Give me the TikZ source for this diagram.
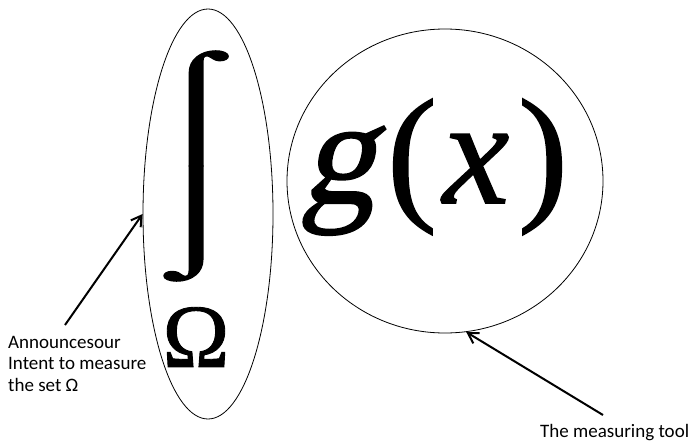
\documentclass[tikz,border=0pt]{standalone}
\usepackage{fontspec}
\usepackage{graphicx}
\setmainfont{Liberation Serif}
\newfontfamily\formulafont{Liberation Serif}[FakeBold=1]
\newfontfamily\slantfont{Liberation Serif}[FakeSlant=0.22,FakeBold=1]
\newfontfamily\notefont{Carlito}
\usetikzlibrary{arrows.meta,shapes.geometric,positioning}

\tikzset{
  ring/.style={draw, ellipse, line width=0.8pt, inner sep=0pt},
  pointer/.style={-{Straight Barb[length=10pt,width=12pt]}, line width=2pt},
  note/.style={font=\notefont\fontsize{19}{21.5}\selectfont, align=left, inner sep=0pt},
  glyph/.style={inner sep=0pt, font=\formulafont\fontsize{#1}{#1}\selectfont},
}
\newcommand{\tallint}{\vbox{\offinterlineskip\hbox{⌠}\hbox{⌡}}}

\begin{document}
\begin{tikzpicture}[x=1pt, y=-1pt]
  \useasboundingbox (0,0) rectangle (692,444);
  % the two rings
  \node[ring, minimum width=130pt, minimum height=410pt] (intent) at (208,214) {};
  \node[ring, minimum width=316pt, minimum height=304pt] (tool) at (445,181) {};
  % the formula
  \node[glyph=100] (integral) at (196,166) {\resizebox{110pt}{200pt}{\tallint}};
  \node[glyph=90] (omega) at (196,337) {Ω};
  \node[glyph=150, anchor=base] (gsym) at (338,203) {\slantfont g};
  \node[glyph=150, anchor=base] (lpar) at (412,203) {(};
  \node[glyph=150, anchor=base] (xsym) at (476,203) {\itshape x};
  \node[glyph=150, anchor=base] (rpar) at (543,203) {)};
  % labels and pointers
  \node[note, anchor=north west] (announce) at (8,336) {Announcesour\\Intent to measure\\the set Ω};
  \node[note, anchor=base west] (measure) at (540,437) {The measuring tool};
  \coordinate (a) at (65,325);
  \coordinate (b) at (603,415);
  \draw[pointer] (a) -- (intent.west);
  \draw[pointer] (b) -- (tool.-82);
\end{tikzpicture}
\end{document}
